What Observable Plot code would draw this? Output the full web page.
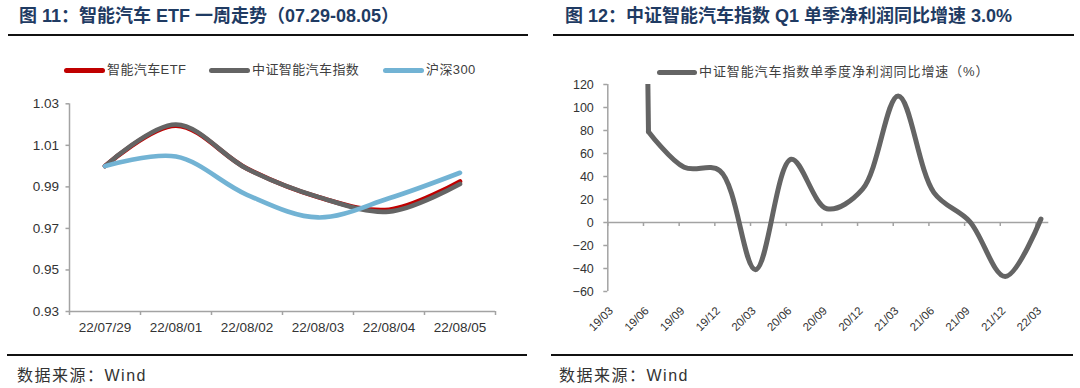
<!DOCTYPE html>
<html><head><meta charset="utf-8">
<script src="https://cdn.jsdelivr.net/npm/d3@7"></script>
<script src="https://cdn.jsdelivr.net/npm/@observablehq/plot@0.6"></script>
<style>
body{margin:0;background:#fff;width:1080px;height:388px;position:relative;overflow:hidden;font-family:"Liberation Sans",Arial,"Noto Sans CJK SC",sans-serif;}
.abs{position:absolute;}
.title{font-size:18px;font-weight:bold;color:#1f3b63;white-space:nowrap;line-height:20px;}
.rule{height:0;border-top:2px solid #111;}
.leg{font-size:13px;color:#404040;letter-spacing:0.4px;line-height:16px;white-space:nowrap;}
.sw{height:5px;border-radius:2.5px;}
.src{font-size:16px;color:#333;line-height:20px;letter-spacing:1.5px;white-space:nowrap;}
svg{overflow:visible;}
</style></head><body>
<div id="root"></div>
<script>
// ---------- data: left chart ----------
const dates = ["22/07/29","22/08/01","22/08/02","22/08/03","22/08/04","22/08/05"];
const etfValues   = [1.000, 1.0195, 0.9988, 0.9851, 0.9790, 0.9926];
const indexValues = [1.000, 1.0200, 0.9987, 0.9852, 0.9781, 0.9914];
const hs300Values = [1.000, 1.0046, 0.9862, 0.9753, 0.9845, 0.9968];
const seriesNames = ["智能汽车ETF","中证智能汽车指数","沪深300"];
const leftTicks = [0.93, 0.95, 0.97, 0.99, 1.01, 1.03];

// ---------- data: right chart ----------
const quarters = ["19/03","19/06","19/09","19/12","20/03","20/06","20/09","20/12","21/03","21/06","21/09","21/12","22/03"];
const growth = [2500, 79, 48, 45, -41, 55, 12, 29, 110, 26, 1, -47, 3.0];
const growthName = "中证智能汽车指数单季度净利润同比增速（%）";
const rightTicks = [-60, -40, -20, 0, 20, 40, 60, 80, 100, 120];

const title1 = "图 11：智能汽车 ETF 一周走势（07.29-08.05）";
const title2 = "图 12：中证智能汽车指数 Q1 单季净利润同比增速 3.0%";
const source = "数据来源：Wind";

// ---------- styles ----------
const colors = ["#c00000", "#646464", "#72b3d4"];
const axisColor = "#a3a3a3";
const font = '"Liberation Sans", Arial, "Noto Sans CJK SC", sans-serif';
const root = document.getElementById("root");

function add(text, style, cls) {
  const el = document.createElement("div");
  el.className = "abs " + (cls || "");
  el.setAttribute("style", style);
  el.textContent = text;
  root.appendChild(el);
  return el;
}

// titles and rules
add(title1, "left:19px;top:6px", "title");
add(title2, "left:565px;top:6px", "title");
add("", "left:8px;top:34px;width:520px", "rule");
add("", "left:553px;top:34px;width:521px", "rule");
add("", "left:7px;top:354px;width:520px", "rule");
add("", "left:551px;top:354px;width:522px", "rule");
add(source, "left:17px;top:366px", "src");
add(source, "left:559px;top:366px", "src");

// legends
const legX = [[64, 107], [209, 252], [383, 426]];
seriesNames.forEach((name, s) => {
  add("", `left:${legX[s][0]}px;top:68px;width:41px;background:${colors[s]}`, "sw");
  add(name, `left:${legX[s][1]}px;top:62px`, "leg");
});
add("", `left:657px;top:70px;width:40px;background:${colors[1]}`, "sw");
add(growthName, "left:699px;top:64px;letter-spacing:0.9px", "leg");

// ---------- left chart ----------
const boundaries = d3.range(dates.length + 1).map(i => i - 0.5);
const lineOpts = (s) => ({x: (d, i) => i, y: d => d, stroke: colors[s], strokeWidth: 4.6, curve: "catmull-rom"});
const left = Plot.plot({
  width: 535, height: 250,
  marginTop: 13.3, marginBottom: 29, marginLeft: 69, marginRight: 40,
  x: {type: "linear", domain: [-0.5, dates.length - 0.5], axis: null},
  y: {domain: [0.93, 1.03], axis: null},
  style: {fontFamily: font, fontSize: "13.5px", color: "#333", background: "transparent"},
  marks: [
    Plot.axisY(leftTicks, {tickFormat: d => d.toFixed(2), tickSize: 3.5, tickPadding: 7, label: null, stroke: axisColor, strokeWidth: 1.5, fill: "#333"}),
    Plot.axisX(boundaries, {tickFormat: () => "", tickSize: 4, label: null, stroke: axisColor, strokeWidth: 1.5}),
    Plot.axisX(d3.range(dates.length), {tickFormat: i => dates[i], tickSize: 0, tickPadding: 11, label: null, fill: "#333"}),
    Plot.ruleX([-0.5], {stroke: axisColor, strokeWidth: 1.5}),
    Plot.ruleY([0.93], {stroke: axisColor, strokeWidth: 1.5}),
    Plot.line(etfValues, lineOpts(0)),
    Plot.line(indexValues, lineOpts(1)),
    Plot.line(hs300Values, lineOpts(2))
  ]
});
const lw = document.createElement("div");
lw.className = "abs"; lw.style.left = "0px"; lw.style.top = "90px";
lw.appendChild(left); root.appendChild(lw);

// ---------- right chart ----------
const growthLine = {x: (d, i) => i, y: d => d, stroke: colors[1], strokeWidth: 5, clip: true, dx: 5};
const right = Plot.plot({
  width: 540, height: 270,
  marginTop: 14, marginBottom: 49, marginLeft: 67.3, marginRight: 31.7,
  x: {type: "linear", domain: [0, 12.36], axis: null},
  y: {domain: [-60, 120], axis: null},
  style: {fontFamily: font, fontSize: "12.5px", color: "#333", background: "transparent"},
  marks: [
    Plot.axisY(rightTicks, {tickSize: 4, tickPadding: 10, label: null, stroke: axisColor, strokeWidth: 1.5, fill: "#333"}),
    Plot.ruleX([0], {stroke: axisColor, strokeWidth: 1.5}),
    Plot.ruleY([0], {stroke: axisColor, strokeWidth: 1.5}),
    Plot.ruleX(d3.range(quarters.length), {x: d => d, y1: 0, y2: 0, insetBottom: -4, stroke: axisColor, strokeWidth: 1.5}),
    Plot.text(quarters, {x: (d, i) => i, frameAnchor: "bottom", rotate: -45, textAnchor: "end", dx: 6, dy: 20, fontSize: 11.5, fill: "#333"}),
    // first (off-scale) segment drawn straight, the rest smoothed
    Plot.line(growth, {...growthLine, filter: (d, i) => i <= 1, curve: "linear"}),
    Plot.line(growth, {...growthLine, filter: (d, i) => i >= 1, curve: "catmull-rom"})
  ]
});
const rw = document.createElement("div");
rw.className = "abs"; rw.style.left = "540px"; rw.style.top = "70px";
rw.appendChild(right); root.appendChild(rw);
</script>
</body></html>
